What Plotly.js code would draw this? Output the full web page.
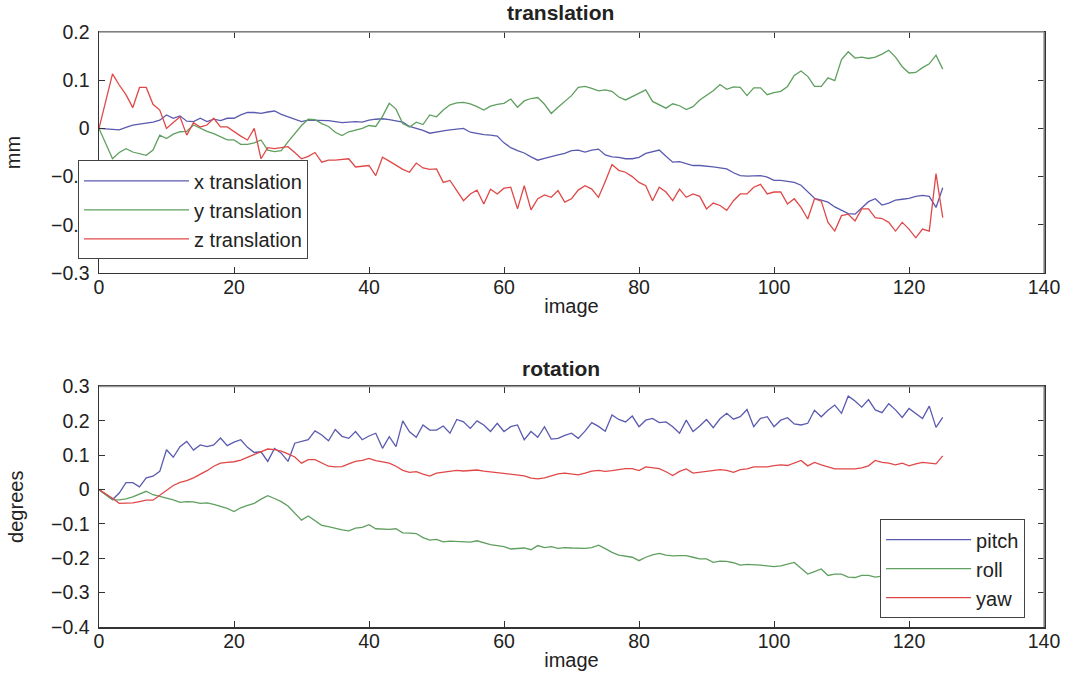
<!DOCTYPE html>
<html>
<head>
<meta charset="utf-8">
<script src="https://cdn.plot.ly/plotly-3.0.1.min.js"></script>
<style>
  html, body { margin: 0; padding: 0; background: #ffffff; }
  #chart { width: 1070px; height: 679px; }
</style>
</head>
<body>
<div id="chart"></div>
<script>
// image index
const images = [
  0,1,2,3,4,5,6,7,8,9,
  10,11,12,13,14,15,16,17,18,19,
  20,21,22,23,24,25,26,27,28,29,
  30,31,32,33,34,35,36,37,38,39,
  40,41,42,43,44,45,46,47,48,49,
  50,51,52,53,54,55,56,57,58,59,
  60,61,62,63,64,65,66,67,68,69,
  70,71,72,73,74,75,76,77,78,79,
  80,81,82,83,84,85,86,87,88,89,
  90,91,92,93,94,95,96,97,98,99,
  100,101,102,103,104,105,106,107,108,109,
  110,111,112,113,114,115,116,117,118,119,
  120,121,122,123,124,125
];

// translation (mm)
const xTranslation = [
  0,-0.001,-0.002,-0.003,0.002,0.007,0.009,0.011,0.013,0.017,
  0.028,0.021,0.026,0.015,0.014,0.021,0.014,0.019,0.016,0.021,
  0.021,0.028,0.033,0.033,0.031,0.034,0.036,0.029,0.024,0.018,
  0.014,0.017,0.017,0.016,0.016,0.014,0.012,0.013,0.014,0.013,
  0.017,0.019,0.020,0.018,0.016,0.013,0.004,0.000,-0.004,-0.010,
  -0.007,-0.005,-0.003,-0.001,0.000,-0.008,-0.011,-0.013,-0.014,-0.016,
  -0.030,-0.040,-0.046,-0.051,-0.059,-0.066,-0.062,-0.058,-0.055,-0.052,
  -0.046,-0.045,-0.049,-0.045,-0.043,-0.055,-0.059,-0.060,-0.063,-0.063,
  -0.060,-0.052,-0.048,-0.045,-0.058,-0.070,-0.069,-0.073,-0.077,-0.077,
  -0.078,-0.080,-0.082,-0.084,-0.092,-0.098,-0.099,-0.098,-0.098,-0.101,
  -0.108,-0.108,-0.110,-0.112,-0.118,-0.132,-0.145,-0.149,-0.153,-0.163,
  -0.170,-0.177,-0.178,-0.166,-0.152,-0.146,-0.159,-0.155,-0.149,-0.147,
  -0.145,-0.141,-0.139,-0.141,-0.164,-0.123
];
const yTranslation = [
  0,-0.030,-0.063,-0.050,-0.042,-0.049,-0.053,-0.056,-0.045,-0.014,
  -0.021,-0.012,-0.007,-0.006,0.007,0.000,-0.006,-0.011,-0.018,-0.024,
  -0.024,-0.033,-0.033,-0.030,-0.024,-0.045,-0.048,-0.046,-0.028,-0.010,
  0.006,0.019,0.018,0.010,0.004,-0.008,-0.015,-0.007,-0.004,0.000,
  0.006,0.004,0.025,0.052,0.040,0.010,0.003,0.013,0.008,0.028,
  0.024,0.038,0.049,0.053,0.054,0.051,0.045,0.038,0.046,0.050,
  0.052,0.061,0.044,0.057,0.062,0.064,0.050,0.031,0.044,0.056,
  0.068,0.085,0.087,0.083,0.078,0.080,0.077,0.065,0.059,0.066,
  0.073,0.080,0.056,0.049,0.042,0.051,0.047,0.039,0.045,0.059,
  0.068,0.078,0.091,0.081,0.086,0.085,0.068,0.084,0.084,0.070,
  0.074,0.077,0.087,0.110,0.119,0.108,0.087,0.087,0.105,0.099,
  0.143,0.159,0.146,0.148,0.145,0.148,0.154,0.162,0.148,0.128,
  0.115,0.116,0.126,0.134,0.152,0.123
];
const zTranslation = [
  0,0.056,0.113,0.090,0.070,0.043,0.085,0.085,0.050,0.038,
  0.000,0.012,0.024,-0.014,0.012,0.003,0.007,0.021,0.003,0.003,
  -0.007,-0.016,-0.024,0.000,-0.063,-0.040,-0.042,-0.040,-0.038,-0.050,
  -0.063,-0.058,-0.050,-0.070,-0.066,-0.066,-0.065,-0.063,-0.080,-0.078,
  -0.077,-0.098,-0.060,-0.068,-0.077,-0.085,-0.091,-0.072,-0.082,-0.085,
  -0.084,-0.112,-0.108,-0.130,-0.150,-0.136,-0.128,-0.157,-0.126,-0.136,
  -0.124,-0.122,-0.167,-0.119,-0.169,-0.146,-0.138,-0.143,-0.129,-0.153,
  -0.146,-0.128,-0.119,-0.126,-0.143,-0.110,-0.075,-0.087,-0.091,-0.100,
  -0.112,-0.119,-0.150,-0.122,-0.132,-0.150,-0.126,-0.143,-0.136,-0.141,
  -0.167,-0.155,-0.160,-0.170,-0.150,-0.136,-0.136,-0.122,-0.116,-0.136,
  -0.132,-0.132,-0.157,-0.146,-0.164,-0.188,-0.146,-0.151,-0.195,-0.213,
  -0.181,-0.178,-0.192,-0.167,-0.167,-0.185,-0.187,-0.195,-0.213,-0.195,
  -0.209,-0.227,-0.209,-0.213,-0.094,-0.185
];

// rotation (degrees)
const pitch = [
  0,-0.015,-0.029,-0.010,0.020,0.020,0.008,0.034,0.039,0.053,
  0.116,0.094,0.125,0.140,0.115,0.130,0.125,0.130,0.150,0.128,
  0.138,0.145,0.123,0.108,0.110,0.082,0.120,0.106,0.082,0.135,
  0.140,0.145,0.171,0.159,0.142,0.175,0.155,0.149,0.169,0.145,
  0.156,0.164,0.120,0.154,0.125,0.200,0.168,0.152,0.188,0.173,
  0.173,0.185,0.164,0.204,0.197,0.178,0.200,0.188,0.169,0.193,
  0.169,0.183,0.188,0.145,0.169,0.152,0.183,0.147,0.149,0.158,
  0.164,0.149,0.170,0.195,0.184,0.170,0.217,0.204,0.197,0.214,
  0.183,0.202,0.207,0.195,0.197,0.183,0.164,0.202,0.169,0.185,
  0.204,0.180,0.206,0.222,0.205,0.212,0.233,0.183,0.207,0.212,
  0.183,0.202,0.209,0.191,0.188,0.193,0.231,0.212,0.231,0.246,
  0.222,0.272,0.258,0.240,0.262,0.232,0.224,0.250,0.232,0.210,
  0.236,0.222,0.207,0.243,0.181,0.210
];
const roll = [
  0,-0.015,-0.029,-0.030,-0.027,-0.021,-0.012,-0.005,-0.015,-0.021,
  -0.025,-0.030,-0.037,-0.035,-0.036,-0.040,-0.039,-0.043,-0.049,-0.055,
  -0.064,-0.053,-0.046,-0.040,-0.028,-0.018,-0.026,-0.035,-0.048,-0.070,
  -0.089,-0.077,-0.090,-0.104,-0.108,-0.113,-0.117,-0.120,-0.112,-0.110,
  -0.102,-0.114,-0.116,-0.116,-0.114,-0.126,-0.127,-0.128,-0.140,-0.147,
  -0.145,-0.152,-0.150,-0.151,-0.154,-0.153,-0.149,-0.155,-0.160,-0.163,
  -0.166,-0.173,-0.171,-0.170,-0.175,-0.163,-0.169,-0.166,-0.171,-0.169,
  -0.170,-0.171,-0.171,-0.169,-0.162,-0.172,-0.183,-0.191,-0.193,-0.197,
  -0.207,-0.197,-0.190,-0.186,-0.191,-0.193,-0.192,-0.192,-0.197,-0.202,
  -0.202,-0.212,-0.208,-0.209,-0.213,-0.220,-0.218,-0.218,-0.220,-0.222,
  -0.224,-0.222,-0.218,-0.212,-0.229,-0.246,-0.239,-0.231,-0.250,-0.246,
  -0.246,-0.255,-0.256,-0.250,-0.250,-0.255,-0.252,-0.256,-0.255,-0.258,
  -0.256,-0.260,-0.258,-0.262,-0.260,-0.263
];
const yaw = [
  0,-0.012,-0.025,-0.040,-0.039,-0.039,-0.035,-0.031,-0.031,-0.017,
  -0.002,0.012,0.021,0.026,0.034,0.044,0.055,0.068,0.077,0.079,
  0.081,0.086,0.094,0.100,0.108,0.118,0.116,0.112,0.104,0.095,
  0.077,0.087,0.087,0.078,0.068,0.066,0.067,0.075,0.082,0.085,
  0.091,0.084,0.081,0.077,0.068,0.056,0.050,0.052,0.045,0.039,
  0.048,0.051,0.054,0.056,0.054,0.056,0.057,0.054,0.052,0.049,
  0.047,0.045,0.043,0.040,0.033,0.031,0.034,0.039,0.046,0.048,
  0.046,0.043,0.048,0.054,0.056,0.053,0.055,0.058,0.061,0.061,
  0.055,0.066,0.064,0.061,0.052,0.041,0.053,0.060,0.048,0.051,
  0.054,0.056,0.058,0.056,0.050,0.058,0.060,0.066,0.067,0.066,
  0.070,0.072,0.070,0.078,0.085,0.069,0.079,0.072,0.066,0.060,
  0.060,0.060,0.060,0.063,0.069,0.085,0.079,0.077,0.072,0.077,
  0.069,0.075,0.079,0.077,0.075,0.098
];

const xTickVals = [0, 20, 40, 60, 80, 100, 120, 140];
const transTickVals = [-0.3, -0.2, -0.1, 0, 0.1, 0.2];
const rotTickVals = [-0.4, -0.3, -0.2, -0.1, 0, 0.1, 0.2, 0.3];

const BLUE = '#5a5ab0', GREEN = '#5f9f5f', RED = '#e04848';
const FONT = 'Liberation Sans, Arial, Helvetica, sans-serif';

function line(x, y, name, color, xa, ya, legend) {
  return { type: 'scatter', mode: 'lines', x: x, y: y, name: name,
           xaxis: xa, yaxis: ya, legend: legend,
           line: { color: color, width: 1.3 } };
}

const data = [
  line(images, xTranslation, 'x translation', BLUE, 'x', 'y', 'legend'),
  line(images, yTranslation, 'y translation', GREEN, 'x', 'y', 'legend'),
  line(images, zTranslation, 'z translation', RED, 'x', 'y', 'legend'),
  line(images, pitch, 'pitch', BLUE, 'x2', 'y2', 'legend2'),
  line(images, roll, 'roll', GREEN, 'x2', 'y2', 'legend2'),
  line(images, yaw, 'yaw', RED, 'x2', 'y2', 'legend2')
];

function xAxis(anchor) {
  return {
    anchor: anchor, range: [0, 140], tickvals: xTickVals,
    ticks: 'inside', ticklen: 6, tickcolor: '#333', tickwidth: 1,
    showline: true, linecolor: '#333', linewidth: 1.5, mirror: 'ticks',
    showgrid: false, zeroline: false,
    tickfont: { family: FONT, size: 19.5, color: '#222' },
    ticklabelstandoff: -4,
    title: { text: 'image', font: { family: FONT, size: 20, color: '#222' }, standoff: 2 }
  };
}
function yAxis(anchor, domain, range, vals, title, standoff) {
  return {
    anchor: anchor, domain: domain, range: range, tickvals: vals,
    ticks: 'inside', ticklen: 6, tickcolor: '#333', tickwidth: 1,
    showline: true, linecolor: '#333', linewidth: 1.5, mirror: 'ticks',
    showgrid: false, zeroline: false,
    tickfont: { family: FONT, size: 19.5, color: '#222' },
    ticklabelstandoff: 4,
    title: { text: title, font: { family: FONT, size: 20, color: '#222' }, standoff: standoff }
  };
}

const layout = {
  width: 1070, height: 679,
  margin: { l: 99, r: 26, t: 32, b: 52 },
  paper_bgcolor: '#ffffff', plot_bgcolor: '#ffffff',
  font: { family: FONT, color: '#222' },
  xaxis: xAxis('y'),
  yaxis: yAxis('x', [0.595, 1], [-0.3, 0.2], transTickVals, 'mm', 25),
  xaxis2: xAxis('y2'),
  yaxis2: yAxis('x2', [0, 0.4042], [-0.4, 0.3], rotTickVals, 'degrees', 22),
  legend: {
    x: -0.0222, xanchor: 'left', y: 0.701, yanchor: 'middle',
    bgcolor: '#ffffff', bordercolor: '#444', borderwidth: 1,
    font: { family: FONT, size: 20, color: '#222' }, itemwidth: 105,
    entrywidth: 270, entrywidthmode: 'pixels',
    tracegroupgap: 0
  },
  legend2: {
    x: 0.98, xanchor: 'right', y: 0.098, yanchor: 'middle',
    bgcolor: '#ffffff', bordercolor: '#444', borderwidth: 1,
    font: { family: FONT, size: 20, color: '#222' }, itemwidth: 85,
    tracegroupgap: 0
  },
  annotations: [
    { text: '<b>translation</b>', xref: 'paper', yref: 'paper', x: 0.4886, y: 1.032,
      xanchor: 'center', yanchor: 'middle', showarrow: false,
      font: { family: FONT, size: 21, color: '#222' } },
    { text: '<b>rotation</b>', xref: 'paper', yref: 'paper', x: 0.4886, y: 0.434,
      xanchor: 'center', yanchor: 'middle', showarrow: false,
      font: { family: FONT, size: 21, color: '#222' } }
  ],
  shapes: [
    { type: 'line', xref: 'x domain', yref: 'y domain', x0: 0, x1: 1, y0: 1, y1: 1,
      line: { color: '#9a9a9a', width: 1.5 }, layer: 'above' },
    { type: 'line', xref: 'x domain', yref: 'y domain', x0: 1, x1: 1, y0: 0, y1: 1,
      line: { color: '#9a9a9a', width: 1.5 }, layer: 'above' },
    { type: 'line', xref: 'x2 domain', yref: 'y2 domain', x0: 0, x1: 1, y0: 1, y1: 1,
      line: { color: '#9a9a9a', width: 1.5 }, layer: 'above' },
    { type: 'line', xref: 'x2 domain', yref: 'y2 domain', x0: 1, x1: 1, y0: 0, y1: 1,
      line: { color: '#9a9a9a', width: 1.5 }, layer: 'above' }
  ]
};

Plotly.newPlot('chart', data, layout, { displayModeBar: false, staticPlot: true });
</script>
</body>
</html>
